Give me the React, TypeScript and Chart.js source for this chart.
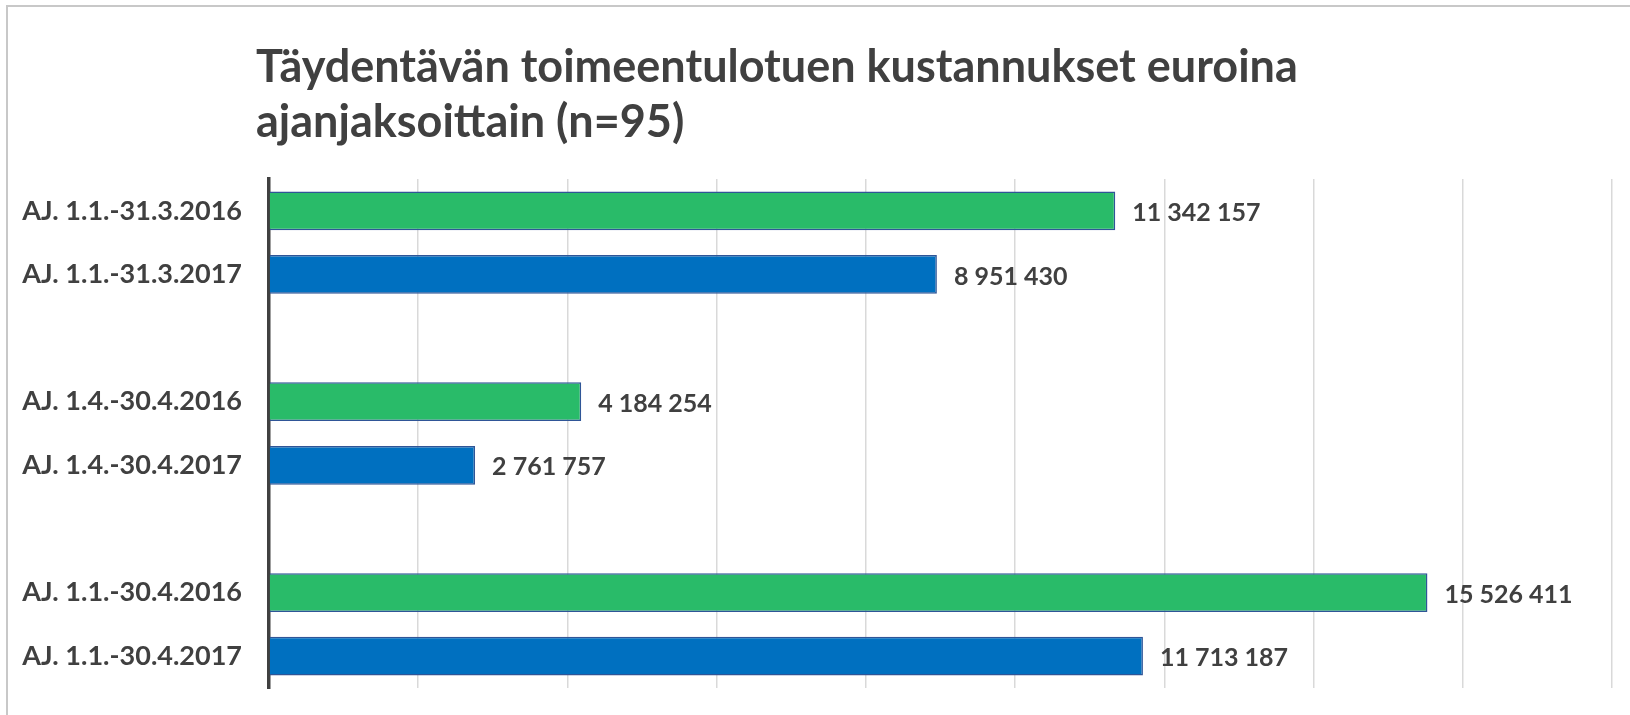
import React, { useEffect, useRef } from "react";
import { Chart, registerables } from "chart.js";

Chart.register(...registerables);

// ---- data ----
const titleLines = [
  "Täydentävän toimeentulotuen kustannukset euroina",
  "ajanjaksoittain (n=95)",
];
const periodLabels2016 = ["AJ. 1.1.-31.3.2016", "AJ. 1.4.-30.4.2016", "AJ. 1.1.-30.4.2016"];
const periodLabels2017 = ["AJ. 1.1.-31.3.2017", "AJ. 1.4.-30.4.2017", "AJ. 1.1.-30.4.2017"];
const values2016 = [11342157, 4184254, 15526411];
const values2017 = [8951430, 2761757, 11713187];
const xMax = 18000000;
const xStep = 2000000;

const COLOR_2016 = "#29BB69";
const COLOR_2017 = "#0070C0";
const TEXT = "#404040";
const FONT = "Lato";

function buildRows() {
  const labels: string[] = [];
  const data: (number | null)[] = [];
  const colors: string[] = [];
  for (let i = 0; i < values2016.length; i++) {
    labels.push(periodLabels2016[i]);
    data.push(values2016[i]);
    colors.push(COLOR_2016);
    labels.push(periodLabels2017[i]);
    data.push(values2017[i]);
    colors.push(COLOR_2017);
    if (i < values2016.length - 1) {
      labels.push("");
      data.push(null);
      colors.push("rgba(0,0,0,0)");
    }
  }
  return { labels, data, colors };
}

const fmt = (v: number) => String(Math.round(v)).replace(/\B(?=(\d{3})+(?!\d))/g, " ");

const framePlugin = {
  id: "frame",
  beforeDraw(chart: any) {
    const ctx = chart.ctx;
    ctx.save();
    ctx.fillStyle = "#ffffff";
    ctx.fillRect(0, 0, chart.width, chart.height);
    ctx.strokeStyle = "#c8c8c8";
    ctx.lineWidth = 2;
    ctx.strokeRect(7, 6, chart.width + 100, chart.height + 100);
    ctx.restore();
  },
};

const titlePlugin = {
  id: "titleText",
  afterDraw(chart: any) {
    const ctx = chart.ctx;
    ctx.save();
    ctx.fillStyle = TEXT;
    ctx.font = `bold 45px ${FONT}`;
    ctx.textAlign = "left";
    ctx.textBaseline = "alphabetic";
    ctx.fillText(titleLines[0], 256, 82);
    ctx.fillText(titleLines[1], 256, 137);
    ctx.restore();
  },
};

const valueLabelPlugin = {
  id: "valueLabels",
  afterDatasetsDraw(chart: any) {
    const ctx = chart.ctx;
    const meta = chart.getDatasetMeta(0);
    const ds = chart.data.datasets[0];
    ctx.save();
    ctx.fillStyle = TEXT;
    ctx.font = `bold 25px ${FONT}`;
    ctx.textAlign = "left";
    ctx.textBaseline = "middle";
    meta.data.forEach((bar: any, i: number) => {
      const v = ds.data[i];
      if (v == null) return;
      ctx.fillText(fmt(v), bar.x + 17, bar.y + 2);
    });
    ctx.restore();
  },
};

export default function App() {
  const ref = useRef<HTMLCanvasElement | null>(null);
  useEffect(() => {
    if (!ref.current) return;
    const rows = buildRows();
    const chart = new Chart(ref.current, {
      type: "bar",
      data: {
        labels: rows.labels,
        datasets: [
          {
            data: rows.data as any,
            backgroundColor: rows.colors,
            borderColor: "#2F5597",
            borderWidth: 1.5,
            barPercentage: 0.61,
            categoryPercentage: 1,
          },
        ],
      },
      options: {
        indexAxis: "y",
        responsive: false,
        animation: false,
        layout: { padding: { left: 0, top: 179, right: 18, bottom: 27 } },
        plugins: {
          legend: { display: false },
          title: { display: false },
          tooltip: { enabled: false },
        },
        scales: {
          x: {
            min: 0,
            max: xMax,
            ticks: { display: false, stepSize: xStep },
            grid: { color: "#d9d9d9", lineWidth: 1.5, drawTicks: false },
            border: { display: false },
            afterFit: (s: any) => {
              s.height = 0;
              s.paddingLeft = 0;
              s.paddingRight = 0;
            },
          },
          y: {
            grid: { display: false, drawTicks: false },
            border: { display: true, color: TEXT, width: 3.5 },
            ticks: {
              color: TEXT,
              font: { family: FONT, size: 27, weight: "bold" },
              padding: 27,
              autoSkip: false,
            },
            afterFit: (s: any) => {
              s.width = 269;
              s.paddingTop = 0;
              s.paddingBottom = 0;
            },
          },
        },
      },
      plugins: [framePlugin, titlePlugin, valueLabelPlugin],
    });
    return () => chart.destroy();
  }, []);
  return (
    <div style={{ position: "fixed", left: 0, top: 0, width: 1630, height: 715, background: "#fff" }}>
      <canvas ref={ref} width={1630} height={715} style={{ display: "block", width: 1630, height: 715 }} />
    </div>
  );
}
